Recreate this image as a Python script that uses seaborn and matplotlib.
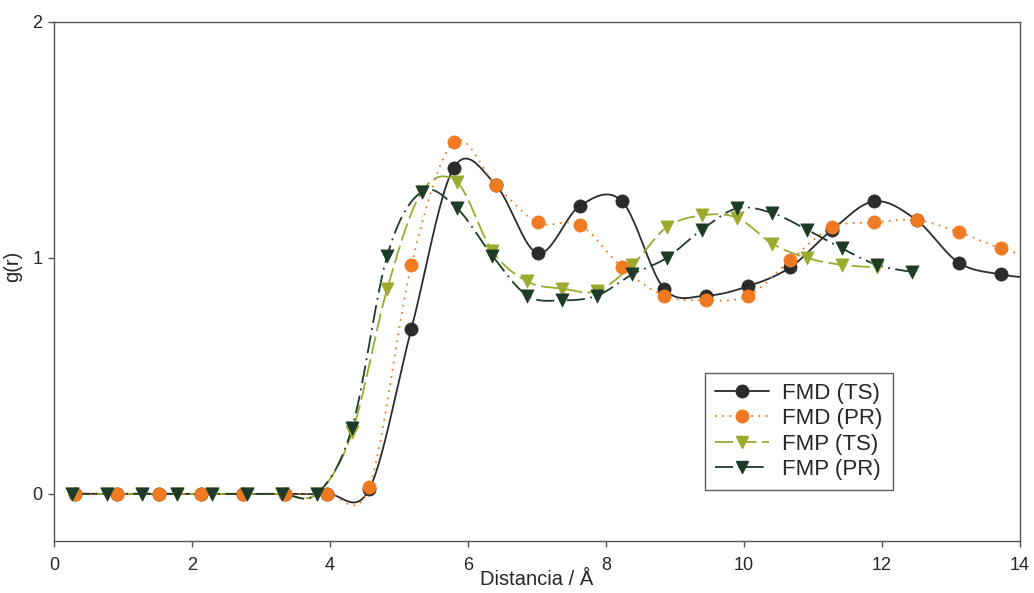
import numpy as np
import pandas as pd
import matplotlib
matplotlib.use("Agg")
import matplotlib.pyplot as plt
from matplotlib.lines import Line2D
import seaborn as sns

# ---- data ----
fmd_x = [0.30, 0.91, 1.52, 2.13, 2.74, 3.35, 3.96, 4.57, 5.18, 5.79, 6.40, 7.01,
         7.62, 8.23, 8.84, 9.45, 10.06, 10.67, 11.28, 11.89, 12.50, 13.11, 13.72,
         14.33]
fmd_ts = [0.0, 0.0, 0.0, 0.0, 0.0, 0.0, 0.0, 0.02, 0.70, 1.38, 1.31, 1.02,
          1.22, 1.24, 0.87, 0.84, 0.88, 0.96, 1.12, 1.24, 1.16, 0.98, 0.93, 0.91]
fmd_pr = [0.0, 0.0, 0.0, 0.0, 0.0, 0.0, 0.0, 0.03, 0.97, 1.49, 1.31, 1.15,
          1.14, 0.96, 0.84, 0.82, 0.84, 0.99, 1.13, 1.15, 1.16, 1.11, 1.04, 0.99]
fmp_x = [0.26, 0.77, 1.28, 1.78, 2.29, 2.80, 3.30, 3.81, 4.32, 4.83, 5.33, 5.84,
         6.35, 6.86, 7.36, 7.87, 8.38, 8.88, 9.39, 9.90, 10.41, 10.91, 11.42,
         11.93, 12.43]
fmp_ts = [0.0, 0.0, 0.0, 0.0, 0.0, 0.0, 0.0, 0.0, 0.26, 0.87, 1.28, 1.32,
          1.03, 0.90, 0.87, 0.86, 0.97, 1.13, 1.18, 1.17, 1.06, 1.00, 0.97, 0.96]
fmp_pr = [0.0, 0.0, 0.0, 0.0, 0.0, 0.0, 0.0, 0.0, 0.28, 1.01, 1.28, 1.21,
          1.01, 0.84, 0.82, 0.84, 0.93, 1.00, 1.12, 1.21, 1.19, 1.12, 1.04,
          0.97, 0.94]
labels = ["FMD (TS)", "FMD (PR)", "FMP (TS)", "FMP (PR)"]
x_ticks = [0, 2, 4, 6, 8, 10, 12, 14]
y_ticks = [0, 1, 2]


def smooth(x, y, n=24):
    """Catmull-Rom style smoothing (like spreadsheet 'smoothed line')."""
    x = np.asarray(x, float)
    y = np.asarray(y, float)
    px = np.concatenate([[2 * x[0] - x[1]], x, [2 * x[-1] - x[-2]]])
    py = np.concatenate([[2 * y[0] - y[1]], y, [2 * y[-1] - y[-2]]])
    xs, ys = [], []
    t = np.linspace(0, 1, n, endpoint=False)
    for i in range(1, len(px) - 2):
        p0x, p1x, p2x, p3x = px[i - 1:i + 3]
        p0y, p1y, p2y, p3y = py[i - 1:i + 3]
        c1x = p1x + (p2x - p0x) / 6
        c1y = p1y + (p2y - p0y) / 6
        c2x = p2x - (p3x - p1x) / 6
        c2y = p2y - (p3y - p1y) / 6
        b0 = (1 - t) ** 3
        b1 = 3 * (1 - t) ** 2 * t
        b2 = 3 * (1 - t) * t ** 2
        b3 = t ** 3
        xs.append(b0 * p1x + b1 * c1x + b2 * c2x + b3 * p2x)
        ys.append(b0 * p1y + b1 * c1y + b2 * c2y + b3 * p2y)
    xs.append([x[-1]])
    ys.append([y[-1]])
    return np.concatenate(xs), np.concatenate(ys)


sns.set_theme(style="white")
plt.rcParams["font.family"] = ["Liberation Sans", "DejaVu Sans"]

fig = plt.figure(figsize=(10.34, 5.93), dpi=100)
ax = fig.add_axes([0.0522, 0.0877, 0.9343, 0.8753])

series = [
    (fmd_x, fmd_ts, "#2b2b2b", "-", "o", 9.5, 1.3),
    (fmd_x, fmd_pr, "#f07a22", (0, (1, 3)), "o", 9.5, 1.3),
    (fmp_x[:len(fmp_ts)], fmp_ts, "#9aab2e", (0, (10, 3)), "v", 9.5, 1.3),
    (fmp_x[:len(fmp_pr)], fmp_pr, "#1e3a28", (0, (10, 3, 1, 3)), "v", 9.5, 1.3),
]

handles = []
for (xs, ys, col, ls, mk, ms, lw), lab in zip(series, labels):
    sx, sy = smooth(xs, ys)
    line_df = pd.DataFrame({"x": sx, "y": sy})
    sns.lineplot(data=line_df, x="x", y="y", sort=False, estimator=None,
                 color=col, linewidth=lw, linestyle=ls, ax=ax, zorder=2)
    pt_df = pd.DataFrame({"x": xs, "y": ys})
    sns.scatterplot(data=pt_df, x="x", y="y", marker=mk, s=ms ** 2,
                    color=col, edgecolor=col, linewidth=0.5, ax=ax, zorder=3)
    handles.append(Line2D([0], [0], color=col, linestyle=ls, linewidth=lw,
                          marker=mk, markersize=ms - 0.5, markeredgecolor=col,
                          markerfacecolor=col, label=lab))

ax.set_xlim(0, 14)
ax.set_ylim(-0.2, 2)
ax.set_xticks(x_ticks)
ax.set_yticks(y_ticks)
ax.tick_params(axis="both", which="major", direction="out", length=4.5,
               width=1, color="#555555", labelsize=13, bottom=True, left=True)
ax.tick_params(axis="x", pad=7)
ax.tick_params(axis="y", pad=4)
for sp in ax.spines.values():
    sp.set_color("#555555")
    sp.set_linewidth(1)
    sp.set_visible(True)

ax.set_xlabel("Distancia / Å", fontsize=14.5, labelpad=-3)
ax.set_ylabel("g(r)", fontsize=14.5)
ax.yaxis.set_label_coords(-0.033, 0.53)

leg = ax.legend(handles=handles, loc="lower right",
                bbox_to_anchor=(0.868, 0.098), frameon=True, fancybox=False,
                fontsize=16, handlelength=2.4, handletextpad=0.6,
                borderpad=0.45, labelspacing=0.2, borderaxespad=0)
leg.get_frame().set_edgecolor("#333333")
leg.get_frame().set_linewidth(1)

fig.savefig("out.png", dpi=100)
